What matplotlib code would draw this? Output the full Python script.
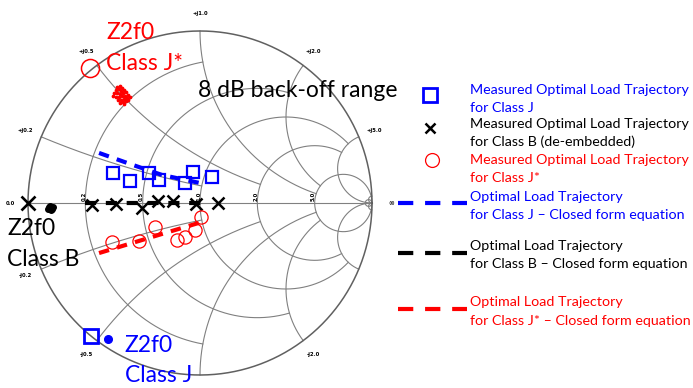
import numpy as np
import matplotlib
matplotlib.use("Agg")
import matplotlib.pyplot as plt

plt.rcParams['font.family'] = ['Lato', 'DejaVu Sans']
plt.rcParams['lines.scale_dashes'] = False

# ---- data: reflection coefficients (real, imag) on the Smith chart ----
# Measured optimal load trajectory, Class J
class_j_re = [-0.506, -0.407, -0.295, -0.237, -0.087, -0.039, 0.068]
class_j_im = [0.176, 0.128, 0.176, 0.134, 0.115, 0.182, 0.153]
# Measured optimal load trajectory, Class B (de-embedded)
class_b_re = [-0.628, -0.488, -0.337, -0.244, -0.157, -0.023, 0.105]
class_b_im = [-0.012, -0.006, -0.029, 0.012, 0.012, -0.006, 0.0]
# Measured optimal load trajectory, Class J*
class_js_re = [-0.512, -0.355, -0.262, -0.134, -0.087, -0.029, 0.006]
class_js_im = [-0.227, -0.221, -0.140, -0.215, -0.198, -0.157, -0.081]

# Closed-form optimal load trajectories
cf_j_re = [-0.587, -0.407, -0.221, 0.029]
cf_j_im = [0.291, 0.227, 0.163, 0.110]
cf_b_re = [-0.669, 0.012]
cf_b_im = [0.0, 0.0]
cf_js_re = [-0.587, -0.221, 0.029]
cf_js_im = [-0.291, -0.180, -0.105]

# Second-harmonic terminations (Z2f0)
z2_j = (-0.635, -0.773)
z2_b = (-1.0, 0.0)
z2_js = (-0.640, 0.785)
z2_j_meas_re = [-0.533]
z2_j_meas_im = [-0.789]
z2_b_meas_re = [-0.878, -0.855, -0.872, -0.866, -0.881, -0.860, -0.872]
z2_b_meas_im = [-0.023, -0.023, -0.029, -0.041, -0.035, -0.035, -0.017]
z2_js_meas_re = [-0.483, -0.465, -0.471, -0.453, -0.488, -0.459, -0.442,
                 -0.500, -0.483, -0.465, -0.448, -0.430, -0.506, -0.488,
                 -0.471, -0.453, -0.436, -0.419, -0.477, -0.459, -0.442,
                 -0.424, -0.407, -0.465, -0.448, -0.430, -0.442, -0.419]
z2_js_meas_im = [0.674, 0.680, 0.663, 0.669, 0.657, 0.651, 0.657,
                 0.640, 0.640, 0.634, 0.640, 0.645, 0.622, 0.616,
                 0.616, 0.622, 0.622, 0.628, 0.599, 0.599, 0.605,
                 0.610, 0.616, 0.581, 0.587, 0.593, 0.576, 0.599]

# Smith chart grid values (each line is drawn up to the given limit)
grid_r = [0.2, 0.5, 1.0, 2.0, 5.0, 50.0]
grid_r_xmax = [1.0, 2.0, 5.0, 5.0, np.inf, np.inf]
grid_x = [0.2, 0.5, 1.0, 2.0, 5.0, 50.0]
grid_x_rmax = [1.0, 2.0, 5.0, 5.0, np.inf, np.inf]
axis_labels = ["0.2", "0.5", "1.0", "2.0", "5.0"]
reactance_labels = [("+j0.2", 0.2), ("+j0.5", 0.5), ("+j1.0", 1.0), ("+j2.0", 2.0),
                    ("+j5.0", 5.0), ("-j0.2", -0.2), ("-j0.5", -0.5), ("-j2.0", -2.0)]

W, H = 693, 388
CX, CY, RAD = 200.0, 203.0, 172.0

fig = plt.figure(figsize=(W / 100, H / 100), dpi=100)
ax = fig.add_axes([0, 0, 1, 1])
ax.set_xlim(-CX / RAD, (W - CX) / RAD)
ax.set_ylim((CY - H) / RAD, CY / RAD)
ax.axis('off')


def gam(z):
    return (z - 1) / (z + 1)


def px(x, y):
    """pixel position (from top-left) -> axes fraction"""
    return x / W, 1 - y / H


grid_kw = dict(color='#808080', lw=0.8, zorder=1)

# resistance circles
for r, xm in zip(grid_r, grid_r_xmax):
    if np.isinf(xm):
        xs = np.tan(np.linspace(-np.pi / 2 + 1e-4, np.pi / 2 - 1e-4, 2000))
    else:
        xs = np.tan(np.linspace(-np.arctan(xm), np.arctan(xm), 800))
    g = gam(r + 1j * xs)
    ax.plot(g.real, g.imag, **grid_kw)

# reactance arcs
for x, rm in zip(grid_x, grid_x_rmax):
    if np.isinf(rm):
        rs = np.tan(np.linspace(0, np.pi / 2 - 1e-4, 2000))
    else:
        rs = np.tan(np.linspace(0, np.arctan(rm), 800))
    for s in (1, -1):
        g = gam(rs + 1j * s * x)
        ax.plot(g.real, g.imag, **grid_kw)

# real axis and outer circle
ax.plot([-1, 1], [0, 0], **grid_kw)
t = np.linspace(0, 2 * np.pi, 800)
ax.plot(np.cos(t), np.sin(t), color='#606060', lw=1.1, zorder=1)

lab_kw = dict(fontsize=3.8, fontweight='bold', family='DejaVu Sans', color='black')
for lab, v in zip(axis_labels, grid_r[:5]):
    gx = gam(v)
    ax.text(gx - 0.006, 0.01, lab, rotation=90, ha='center', va='bottom', **lab_kw)
for lab, xv in reactance_labels:
    g = gam(1j * xv)
    ax.text(1.1 * g.real, 1.1 * g.imag, lab, ha='center', va='center', **lab_kw)
ax.text(-1.105, 0, "0.0", ha='center', va='center', **lab_kw)
ax.text(1.115, 0, "\u221e", ha='center', va='center', fontsize=5, fontweight='bold',
        family='DejaVu Sans')

BLUE, RED, BLACK = '#0000ff', '#ff0000', '#000000'

# closed-form trajectories
ax.plot(cf_j_re, cf_j_im, color=BLUE, lw=3.0, dashes=(7.5, 6), zorder=3)
ax.plot(cf_b_re, cf_b_im, color=BLACK, lw=3.0, dashes=(8, 7), zorder=3)
ax.plot(cf_js_re, cf_js_im, color=RED, lw=3.0, dashes=(7.5, 6), zorder=3)

# measured trajectories
ax.plot(class_j_re, class_j_im, ls='none', marker='s', ms=9, mfc='none', mec=BLUE, mew=1.6, zorder=4)
ax.plot(class_b_re, class_b_im, ls='none', marker='x', ms=8.5, mec=BLACK, mew=1.8, zorder=4)
ax.plot(class_js_re, class_js_im, ls='none', marker='o', ms=9.5, mfc='none', mec=RED, mew=0.9, zorder=4)

# second-harmonic terminations
ax.plot(*z2_j, marker='s', ms=10, mfc='none', mec=BLUE, mew=2.0, zorder=4)
ax.plot(*z2_b, marker='x', ms=9.5, mec=BLACK, mew=1.9, zorder=4)
ax.plot(*z2_js, marker='o', ms=13, mfc='none', mec=RED, mew=1.1, zorder=4)
ax.plot(z2_j_meas_re, z2_j_meas_im, ls='none', marker='o', ms=5.5, color=BLUE, zorder=4)
ax.plot(z2_b_meas_re, z2_b_meas_im, ls='none', marker='o', ms=4, color=BLACK, zorder=4)
ax.plot(z2_js_meas_re, z2_js_meas_im, ls='none', marker='o', ms=1.7, color=RED, zorder=4)

# annotations
big = 16.5
ax.text(*px(106, 39), "Z2f0", color=RED, fontsize=big, va='baseline', transform=ax.transAxes)
ax.text(*px(106, 70), "Class J*", color=RED, fontsize=big, va='baseline', transform=ax.transAxes)
ax.text(*px(198, 97), "8 dB back-off range", color=BLACK, fontsize=big, va='baseline', transform=ax.transAxes)
ax.text(*px(7, 235), "Z2f0", color=BLACK, fontsize=big, va='baseline', transform=ax.transAxes)
ax.text(*px(7, 266), "Class B", color=BLACK, fontsize=big, va='baseline', transform=ax.transAxes)
ax.text(*px(124, 352), "Z2f0", color=BLUE, fontsize=big, va='baseline', transform=ax.transAxes)
ax.text(*px(125, 382), "Class J", color=BLUE, fontsize=big, va='baseline', transform=ax.transAxes)

# legend
leg = 10.3
legend_rows = [
    (BLUE, 93.5, "Measured Optimal Load Trajectory"),
    (BLUE, 111.5, "for Class J"),
    (BLACK, 128.5, "Measured Optimal Load Trajectory"),
    (BLACK, 146, "for Class B (de-embedded)"),
    (RED, 164, "Measured Optimal Load Trajectory"),
    (RED, 181.5, "for Class J*"),
    (BLUE, 200.5, "Optimal Load Trajectory"),
    (BLUE, 219, "for Class J \u2013 Closed form equation"),
    (BLACK, 250, "Optimal Load Trajectory"),
    (BLACK, 268.5, "for Class B \u2013 Closed form equation"),
    (RED, 306.5, "Optimal Load Trajectory"),
    (RED, 325, "for Class J* \u2013 Closed form equation"),
]
for col, y, s in legend_rows:
    ax.text(*px(470, y), s, color=col, fontsize=leg, va='baseline', transform=ax.transAxes)

tr = ax.transAxes
ax.plot(*px(429.5, 95), marker='s', ms=9.5, mfc='none', mec=BLUE, mew=2.0, transform=tr)
ax.plot(*px(429.5, 127.5), marker='x', ms=6.5, mec=BLACK, mew=1.8, transform=tr)
ax.plot(*px(431.5, 159.5), marker='o', ms=10, mfc='none', mec=RED, mew=0.9, transform=tr)
for col, y in ((BLUE, 203.3), (BLACK, 252.7), (RED, 309.3)):
    x0, yy = px(398, y)
    x1, _ = px(467, y)
    ax.plot([x0, x1], [yy, yy], color=col, lw=3.0, dashes=(11, 8.5), transform=tr,
            solid_capstyle='butt', dash_capstyle='butt')

fig.savefig("out.png", dpi=100)
